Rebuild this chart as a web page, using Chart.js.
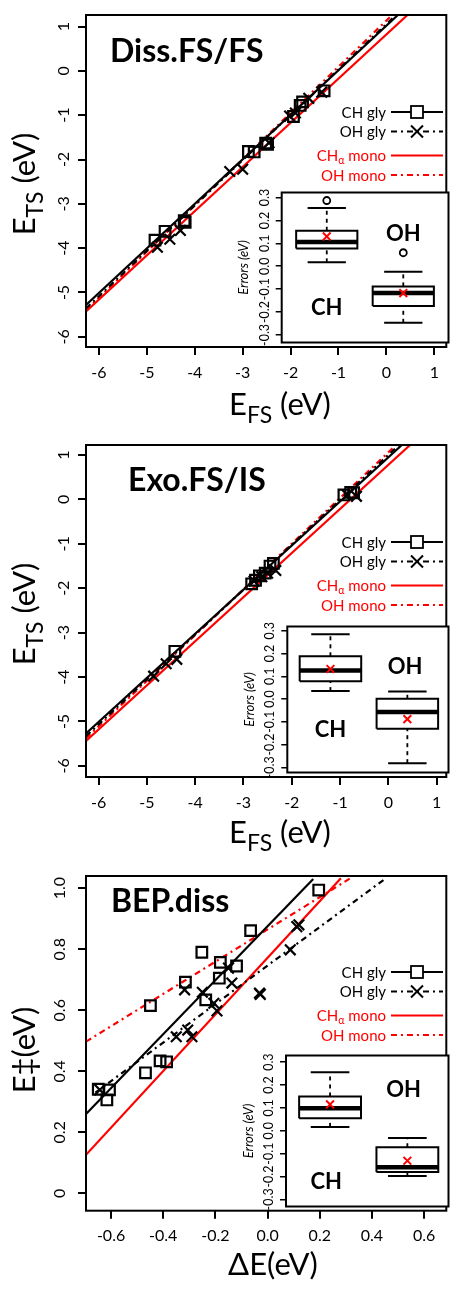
<!DOCTYPE html>
<html>
<head>
<meta charset="utf-8">
<script src="https://cdn.jsdelivr.net/npm/chart.js@4.4.0/dist/chart.umd.min.js"></script>
<style>
  html, body { margin: 0; padding: 0; background: #fff; }
  #wrap { position: relative; width: 456px; height: 1290px; overflow: hidden; }
  canvas { position: absolute; }
</style>
</head>
<body>
<div id="wrap"></div>
<script>
Chart.defaults.font.family = 'Lato, "Open Sans", sans-serif';
Chart.defaults.color = '#000';

const BLACK = '#000000';
const RED = '#ff0000';
const DOTDASH = [6, 4, 2, 4];

// shared ticks for the two FS panels
const fsTicks = [-6, -5, -4, -3, -2, -1, 0, 1];
const fsTickLabels = ['-6', '-5', '-4', '-3', '-2', '-1', '0', '1'];
const bepXTicks = [-0.6, -0.4, -0.2, 0, 0.2, 0.4, 0.6];
const bepXTickLabels = ['-0.6', '-0.4', '-0.2', '0.0', '0.2', '0.4', '0.6'];
const bepYTicks = [0, 0.2, 0.4, 0.6, 0.8, 1.0];
const bepYTickLabels = ['0', '0.2', '0.4', '0.6', '0.8', '1.0'];
const errTicks = [-0.3, -0.2, -0.1, 0, 0.1, 0.2, 0.3];
const errTickLabels = ['-0.3', '-0.2', '-0.1', '0.0', '0.1', '0.2', '0.3'];
const boxGroups = ['CH', 'OH'];

// --- Diss.FS/FS
const dissChX = [-4.83, -4.62, -4.22, -4.20, -2.88, -2.76, -2.52, -2.48, -1.94, -1.80, -1.75, -1.30];
const dissChY = [-3.82, -3.62, -3.38, -3.42, -1.82, -1.83, -1.63, -1.66, -1.03, -0.78, -0.70, -0.45];
const dissOhX = [-4.78, -4.52, -4.30, -3.27, -3.00, -2.45, -2.02, -1.90, -1.62, -1.35];
const dissOhY = [-3.98, -3.80, -3.60, -2.27, -2.22, -1.62, -1.02, -0.95, -0.62, -0.48];
const dissChGlyFitX = [-6.27, 0.24], dissChGlyFitY = [-5.28, 1.26];
const dissOhGlyFitX = [-6.27, 0.20], dissOhGlyFitY = [-5.36, 1.26];
const dissChMonoFitX = [-6.27, 0.44], dissChMonoFitY = [-5.43, 1.26];
const dissOhMonoFitX = [-6.27, 0.12], dissOhMonoFitY = [-5.40, 1.26];
const dissLow = [0.017, -0.247], dissQ1 = [0.078, -0.174], dissMed = [0.106, -0.117];
const dissQ3 = [0.155, -0.088], dissHigh = [0.254, -0.024], dissMean = [0.130, -0.117];
const dissOutGroup = [1, 2], dissOutVal = [0.287, 0.059];

// --- Exo.FS/IS
const exoChX = [-4.42, -2.83, -2.75, -2.67, -2.55, -2.45, -2.38, -0.92, -0.78, -0.72];
const exoChY = [-3.42, -1.90, -1.82, -1.72, -1.66, -1.50, -1.44, 0.10, 0.16, 0.15];
const exoOhX = [-4.86, -4.60, -4.38, -2.78, -2.62, -2.50, -2.33, -0.85, -0.66];
const exoOhY = [-3.98, -3.70, -3.60, -1.84, -1.74, -1.66, -1.60, 0.10, 0.07];
const exoChGlyFitX = [-6.26, 0.28], exoChGlyFitY = [-5.27, 1.225];
const exoOhGlyFitX = [-6.26, 0.22], exoOhGlyFitY = [-5.33, 1.225];
const exoChMonoFitX = [-6.26, 0.45], exoChMonoFitY = [-5.44, 1.225];
const exoOhMonoFitX = [-6.26, 0.16], exoOhMonoFitY = [-5.38, 1.225];
const exoLow = [0.035, -0.282], exoQ1 = [0.078, -0.131], exoMed = [0.125, -0.057];
const exoQ3 = [0.188, 0.001], exoHigh = [0.285, 0.033], exoMean = [0.132, -0.088];
const exoOutGroup = [], exoOutVal = [];

// --- BEP.diss
const bepChX = [-0.649, -0.606, -0.616, -0.468, -0.449, -0.412, -0.387, -0.315, -0.252, -0.237, -0.185, -0.181, -0.119, -0.065, 0.196];
const bepChY = [0.341, 0.339, 0.306, 0.395, 0.615, 0.434, 0.431, 0.692, 0.790, 0.634, 0.705, 0.757, 0.745, 0.861, 0.994];
const bepOhX = [-0.643, -0.350, -0.318, -0.306, -0.290, -0.250, -0.206, -0.194, -0.150, -0.137, -0.031, -0.028, 0.087, 0.112, 0.120];
const bepOhY = [0.339, 0.513, 0.667, 0.535, 0.513, 0.659, 0.623, 0.598, 0.738, 0.689, 0.656, 0.652, 0.798, 0.874, 0.880];
const bepChGlyFitX = [-0.696, 0.175], bepChGlyFitY = [0.26, 1.03];
const bepOhGlyFitX = [-0.66, 0.449], bepOhGlyFitY = [0.33, 1.03];
const bepChMonoFitX = [-0.696, 0.281], bepChMonoFitY = [0.126, 1.033];
const bepOhMonoFitX = [-0.696, 0.318], bepOhMonoFitY = [0.497, 1.033];
const bepLow = [0.017, -0.198], bepQ1 = [0.055, -0.180], bepMed = [0.098, -0.159];
const bepQ3 = [0.150, -0.072], bepHigh = [0.256, -0.032], bepMean = [0.115, -0.131];
const bepOutGroup = [], bepOutVal = [];

const BOX_HALF = 0.4;
const CAP_HALF = 0.25;

function pts(xs, ys) { return xs.map((x, i) => ({ x: x, y: ys[i] })); }

function makeCanvas(left, top, w, h) {
  const c = document.createElement('canvas');
  c.width = w; c.height = h;
  c.style.left = left + 'px'; c.style.top = top + 'px';
  c.style.width = w + 'px'; c.style.height = h + 'px';
  document.getElementById('wrap').appendChild(c);
  return c;
}

// text made of pieces with different sizes (subscripts)
function drawRich(ctx, parts, x, y, align, color) {
  let total = 0;
  parts.forEach(p => {
    ctx.font = (p.weight || 'normal') + ' ' + p.size + 'px Lato';
    p.w = ctx.measureText(p.t).width;
    total += p.w;
  });
  let cx = align === 'right' ? x - total : (align === 'left' ? x : x - total / 2);
  ctx.fillStyle = color;
  ctx.textAlign = 'left';
  parts.forEach(p => {
    ctx.font = (p.weight || 'normal') + ' ' + p.size + 'px Lato';
    ctx.fillText(p.t, cx, y + (p.dy || 0));
    cx += p.w;
  });
}

const framePlugin = {
  id: 'frame',
  beforeDatasetsDraw(chart, args, o) {
    if (!o.fill) return;
    const a = chart.chartArea, ctx = chart.ctx;
    ctx.save();
    ctx.fillStyle = '#fff';
    ctx.fillRect(a.left, a.top, a.right - a.left, a.bottom - a.top);
    ctx.restore();
  },
  afterDraw(chart) {
    const a = chart.chartArea, ctx = chart.ctx;
    ctx.save();
    ctx.strokeStyle = BLACK;
    ctx.lineWidth = 2;
    ctx.strokeRect(a.left, a.top, a.right - a.left, a.bottom - a.top);
    ctx.restore();
  }
};

const legendRows = [
  { parts: [{ t: 'CH gly', size: 15 }], color: BLACK, dash: [], marker: 'rect' },
  { parts: [{ t: 'OH gly', size: 15 }], color: BLACK, dash: DOTDASH, marker: 'cross' },
  { parts: [{ t: 'CH', size: 15 }, { t: 'α', size: 10.5, dy: 4 }, { t: ' mono', size: 15 }], color: RED, dash: [], marker: null },
  { parts: [{ t: 'OH mono', size: 15 }], color: RED, dash: DOTDASH, marker: null }
];
const legendRowY = [112, 131.5, 155.5, 175];

const panelText = {
  id: 'panelText',
  afterDraw(chart, args, o) {
    const ctx = chart.ctx;
    ctx.save();
    ctx.textBaseline = 'alphabetic';
    ctx.textAlign = 'left';
    ctx.fillStyle = BLACK;
    ctx.font = 'bold 32px Lato';
    ctx.fillText(o.title, o.titleX, o.titleY);
    drawRich(ctx, o.xTitle, o.xTitleX, o.xTitleY, 'center', BLACK);
    ctx.save();
    ctx.translate(o.yTitleX, o.yTitleY);
    ctx.rotate(-Math.PI / 2);
    drawRich(ctx, o.yTitle, 0, 0, 'center', BLACK);
    ctx.restore();

    // legend
    ctx.textBaseline = 'middle';
    legendRows.forEach((r, i) => {
      const y = legendRowY[i];
      drawRich(ctx, r.parts, 386, y + 1, 'right', r.color);
      ctx.strokeStyle = r.color;
      ctx.lineWidth = 1.8;
      ctx.setLineDash(r.dash);
      ctx.beginPath();
      ctx.moveTo(391, y); ctx.lineTo(443, y);
      ctx.stroke();
      ctx.setLineDash([]);
      if (r.marker === 'rect') {
        ctx.fillStyle = '#fff';
        ctx.fillRect(411, y - 6, 12, 12);
        ctx.lineWidth = 1.8;
        ctx.strokeRect(411, y - 6, 12, 12);
      } else if (r.marker === 'cross') {
        ctx.lineWidth = 2;
        ctx.beginPath();
        ctx.moveTo(411, y - 6); ctx.lineTo(423, y + 6);
        ctx.moveTo(411, y + 6); ctx.lineTo(423, y - 6);
        ctx.stroke();
      }
    });
    ctx.restore();
  }
};

const insetText = {
  id: 'insetText',
  afterDatasetsDraw(chart, args, o) {
    const ctx = chart.ctx, sx = chart.scales.x, sy = chart.scales.y;
    ctx.save();
    ctx.fillStyle = BLACK;
    ctx.font = 'bold 22px Lato';
    ctx.textAlign = 'center';
    ctx.textBaseline = 'middle';
    o.labels.forEach(l => ctx.fillText(l.t, sx.getPixelForValue(l.x), sy.getPixelForValue(l.y)));
    ctx.restore();
  }
};

function lineSet(label, xs, ys, color, dash) {
  return {
    label: label, data: pts(xs, ys), showLine: true, pointRadius: 0,
    borderColor: color, borderWidth: 2.2, borderDash: dash, fill: false
  };
}

function mainChart(L, p) {
  const canvasH = 430;
  const canvas = makeCanvas(0, L.top, 456, canvasH);
  new Chart(canvas, {
    type: 'scatter',
    data: {
      datasets: [
        { label: 'CH gly', data: pts(p.chX, p.chY), pointStyle: 'rect', pointRadius: 7.5,
          borderColor: BLACK, borderWidth: 2.2, backgroundColor: 'rgba(0,0,0,0)' },
        { label: 'OH gly', data: pts(p.ohX, p.ohY), pointStyle: 'crossRot', pointRadius: 7.5,
          borderColor: BLACK, borderWidth: 2.2, backgroundColor: 'rgba(0,0,0,0)' },
        lineSet('CH gly fit', p.fits[0][0], p.fits[0][1], BLACK, []),
        lineSet('OH gly fit', p.fits[1][0], p.fits[1][1], BLACK, DOTDASH),
        lineSet('CHα mono', p.fits[2][0], p.fits[2][1], RED, []),
        lineSet('OH mono', p.fits[3][0], p.fits[3][1], RED, DOTDASH)
      ]
    },
    options: {
      responsive: false, animation: false, devicePixelRatio: 1, events: [],
      layout: { padding: { left: 0, top: L.chartTop, right: 1, bottom: 0 } },
      plugins: {
        legend: { display: false }, tooltip: { enabled: false },
        frame: { fill: false },
        panelText: p.text
      },
      scales: {
        x: {
          type: 'linear', min: p.xMin, max: p.xMax,
          afterBuildTicks: s => { s.ticks = p.xTicks.map(v => ({ value: v })); },
          afterFit: s => { s.height = canvasH - L.chartBottom; s.paddingLeft = 0; s.paddingRight = 0; },
          grid: { drawOnChartArea: false, color: BLACK, lineWidth: 2, tickLength: 8 },
          border: { display: false },
          ticks: { autoSkip: false, minRotation: 0, maxRotation: 0, padding: 8, color: BLACK,
                   font: { size: 16 }, callback: (v, i) => p.xTickLabels[i] }
        },
        y: {
          type: 'linear', min: p.yMin, max: p.yMax,
          afterBuildTicks: s => { s.ticks = p.yTicks.map(v => ({ value: v })); },
          afterFit: s => { s.width = 86; s.paddingTop = 0; s.paddingBottom = 0; },
          grid: { drawOnChartArea: false, color: BLACK, lineWidth: 2, tickLength: 8 },
          border: { display: false },
          ticks: { autoSkip: false, minRotation: 90, maxRotation: 90, crossAlign: 'center', padding: 7,
                   color: BLACK, font: { size: 16 }, callback: (v, i) => p.yTickLabels[i] }
        }
      }
    },
    plugins: [framePlugin, panelText]
  });
}

function insetChart(I, b) {
  const w = 456 - I.left;
  const h = Math.ceil(I.chartBottom + 3 - I.top);
  const canvas = makeCanvas(I.left, I.top, w, h);
  const ds = [];
  ds.push({ label: 'mean', data: b.mean.map((m, i) => ({ x: i + 1, y: m })), pointStyle: 'crossRot',
            pointRadius: 5.5, borderColor: RED, borderWidth: 2 });
  ds.push({ label: 'outliers', data: pts(b.outGroup, b.outVal), pointStyle: 'circle', pointRadius: 3.5,
            borderColor: BLACK, borderWidth: 1.8, backgroundColor: '#fff' });
  boxGroups.forEach((g, i) => {
    const c = i + 1;
    const seg = (xs, ys, width, dash) => ({
      label: g, data: pts(xs, ys), showLine: true, pointRadius: 0, borderColor: BLACK,
      borderWidth: width, borderDash: dash, borderJoinStyle: 'miter', borderCapStyle: 'butt', fill: false
    });
    ds.push(seg([c - BOX_HALF, c + BOX_HALF], [b.med[i], b.med[i]], 4.5, []));
    ds.push(seg([c - BOX_HALF, c + BOX_HALF, c + BOX_HALF, c - BOX_HALF, c - BOX_HALF],
                [b.q1[i], b.q1[i], b.q3[i], b.q3[i], b.q1[i]], 2, []));
    ds.push(seg([c - CAP_HALF, c + CAP_HALF], [b.high[i], b.high[i]], 2, []));
    ds.push(seg([c - CAP_HALF, c + CAP_HALF], [b.low[i], b.low[i]], 2, []));
    ds.push(seg([c, c], [b.q3[i], b.high[i]], 1.8, [4, 4]));
    ds.push(seg([c, c], [b.low[i], b.q1[i]], 1.8, [4, 4]));
  });
  new Chart(canvas, {
    type: 'scatter',
    data: { datasets: ds },
    options: {
      responsive: false, animation: false, devicePixelRatio: 1, events: [],
      layout: { padding: { left: 0, top: I.chartTop - I.top, right: w - (455 - I.left), bottom: h - (I.chartBottom - I.top) } },
      plugins: {
        legend: { display: false }, tooltip: { enabled: false },
        frame: { fill: true },
        insetText: { labels: I.labels }
      },
      scales: {
        x: { type: 'linear', display: false, min: I.xMin, max: I.xMax },
        y: {
          type: 'linear', min: I.yMin, max: I.yMax,
          afterBuildTicks: s => { s.ticks = errTicks.map(v => ({ value: v })); },
          afterFit: s => { s.width = I.chartLeft - I.left; s.paddingTop = 0; s.paddingBottom = 0; },
          grid: { drawOnChartArea: false, color: BLACK, lineWidth: 1.5, tickLength: 6 },
          border: { display: false },
          title: { display: true, text: 'Errors (eV)', color: BLACK, padding: { top: 2, bottom: 0 },
                   font: { size: 13, style: 'italic' } },
          ticks: { autoSkip: false, minRotation: 90, maxRotation: 90, crossAlign: 'center', padding: 0,
                   color: BLACK, font: { size: 12.5 }, callback: (v, i) => errTickLabels[i] }
        }
      }
    },
    plugins: [framePlugin, insetText]
  });
}

const fsXTitle = [{ t: 'E', size: 31 }, { t: 'FS', size: 23, dy: 8 }, { t: ' (eV)', size: 31 }];
const fsYTitle = [{ t: 'E', size: 31 }, { t: 'TS', size: 23, dy: 8 }, { t: ' (eV)', size: 31 }];

// panel 1
mainChart({ top: 0, chartTop: 15, chartBottom: 347 }, {
  chX: dissChX, chY: dissChY, ohX: dissOhX, ohY: dissOhY,
  fits: [[dissChGlyFitX, dissChGlyFitY], [dissOhGlyFitX, dissOhGlyFitY],
         [dissChMonoFitX, dissChMonoFitY], [dissOhMonoFitX, dissOhMonoFitY]],
  xMin: -6.27, xMax: 1.25, yMin: -6.23, yMax: 1.26,
  xTicks: fsTicks, xTickLabels: fsTickLabels, yTicks: fsTicks, yTickLabels: fsTickLabels,
  text: { title: 'Diss.FS/FS', titleX: 110, titleY: 62,
          xTitle: fsXTitle, xTitleX: 280, xTitleY: 415,
          yTitle: fsYTitle, yTitleX: 35, yTitleY: 184 }
});
insetChart({ left: 234, top: 185, chartLeft: 281.7, chartTop: 192.3, chartBottom: 347,
             xMin: 0.411, xMax: 2.591, yMin: -0.333, yMax: 0.322,
             labels: [{ t: 'OH', x: 2.0, y: 0.141 }, { t: 'CH', x: 1.0, y: -0.184 }] },
           { low: dissLow, q1: dissQ1, med: dissMed, q3: dissQ3, high: dissHigh, mean: dissMean,
             outGroup: dissOutGroup, outVal: dissOutVal });

// panel 2
mainChart({ top: 430, chartTop: 15, chartBottom: 347 }, {
  chX: exoChX, chY: exoChY, ohX: exoOhX, ohY: exoOhY,
  fits: [[exoChGlyFitX, exoChGlyFitY], [exoOhGlyFitX, exoOhGlyFitY],
         [exoChMonoFitX, exoChMonoFitY], [exoOhMonoFitX, exoOhMonoFitY]],
  xMin: -6.26, xMax: 1.2, yMin: -6.25, yMax: 1.225,
  xTicks: fsTicks, xTickLabels: fsTickLabels, yTicks: fsTicks, yTickLabels: fsTickLabels,
  text: { title: 'Exo.FS/IS', titleX: 128, titleY: 61,
          xTitle: fsXTitle, xTitleX: 280, xTitleY: 413,
          yTitle: fsYTitle, yTitleX: 35, yTitleY: 184 }
});
insetChart({ left: 240, top: 619, chartLeft: 287.3, chartTop: 626, chartBottom: 777,
             xMin: 0.439, xMax: 2.535, yMin: -0.323, yMax: 0.319,
             labels: [{ t: 'OH', x: 1.97, y: 0.14 }, { t: 'CH', x: 1.0, y: -0.136 }] },
           { low: exoLow, q1: exoQ1, med: exoMed, q3: exoQ3, high: exoHigh, mean: exoMean,
             outGroup: exoOutGroup, outVal: exoOutVal });

// panel 3
mainChart({ top: 860, chartTop: 16, chartBottom: 350.7 }, {
  chX: bepChX, chY: bepChY, ohX: bepOhX, ohY: bepOhY,
  fits: [[bepChGlyFitX, bepChGlyFitY], [bepOhGlyFitX, bepOhGlyFitY],
         [bepChMonoFitX, bepChMonoFitY], [bepOhMonoFitX, bepOhMonoFitY]],
  xMin: -0.696, xMax: 0.685, yMin: -0.057, yMax: 1.04,
  xTicks: bepXTicks, xTickLabels: bepXTickLabels, yTicks: bepYTicks, yTickLabels: bepYTickLabels,
  text: { title: 'BEP.diss', titleX: 111, titleY: 52,
          xTitle: [{ t: 'ΔE(eV)', size: 31 }], xTitleX: 273, xTitleY: 415,
          yTitle: [{ t: 'E‡(eV)', size: 31 }], yTitleX: 35, yTitleY: 190 }
});
insetChart({ left: 239, top: 1048, chartLeft: 286, chartTop: 1054.3, chartBottom: 1210.7,
             xMin: 0.43, xMax: 2.532, yMin: -0.331, yMax: 0.329,
             labels: [{ t: 'OH', x: 1.95, y: 0.178 }, { t: 'CH', x: 0.95, y: -0.222 }] },
           { low: bepLow, q1: bepQ1, med: bepMed, q3: bepQ3, high: bepHigh, mean: bepMean,
             outGroup: bepOutGroup, outVal: bepOutVal });
</script>
</body>
</html>
